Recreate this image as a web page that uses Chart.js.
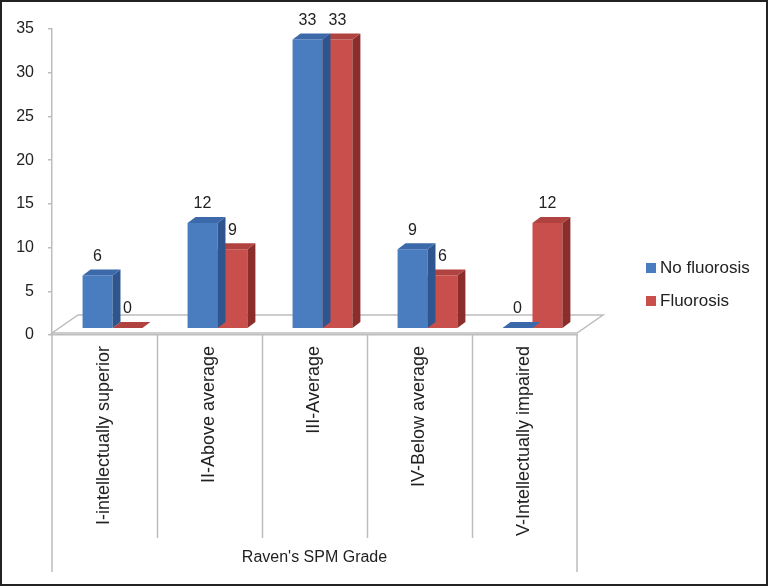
<!DOCTYPE html>
<html>
<head>
<meta charset="utf-8">
<script src="https://cdn.jsdelivr.net/npm/chart.js@4.4.0/dist/chart.umd.min.js"></script>
<style>
  html, body { margin: 0; padding: 0; background: #fff; }
  #wrap { width: 768px; height: 586px; position: relative; }
</style>
</head>
<body>
<div id="wrap"><canvas id="chart" width="768" height="586"></canvas></div>
<script>
const categories = [
  'I-intellectually superior',
  'II-Above average',
  'III-Average',
  'IV-Below average',
  'V-Intellectually impaired'
];
const noFluorosis = [6, 12, 33, 9, 0];
const fluorosis = [0, 9, 33, 6, 12];
const yTicks = [0, 5, 10, 15, 20, 25, 30, 35];

const FONT = "'Liberation Sans', Arial, sans-serif";
const DEPTH_X = 8, DEPTH_Y = -6;
const faces = [
  { front: '#4a7dc0', top: '#3b69a9', side: '#2e558d' },
  { front: '#c84f4b', top: '#b0423f', side: '#8a2d2b' }
];

const toPoints = (vals) => vals.map((v, i) => ({ x: i, y: v }));

// draws top + side faces after each dataset, so the next series covers the hidden part
const bars3d = {
  id: 'bars3d',
  beforeDatasetsDraw(chart) {
    const { ctx, chartArea: a, scales } = chart;
    const y0 = scales.y.getPixelForValue(0) - 2;
    ctx.save();
    ctx.beginPath();
    ctx.moveTo(a.left, y0);
    ctx.lineTo(a.right, y0);
    ctx.lineTo(a.right + 26, y0 - 18);
    ctx.lineTo(a.left + 26, y0 - 18);
    ctx.closePath();
    ctx.fillStyle = '#fff';
    ctx.fill();
    ctx.strokeStyle = '#bdbdbd';
    ctx.lineWidth = 1.5;
    ctx.stroke();
    ctx.restore();
  },
  afterDatasetDraw(chart, args) {
    const { ctx } = chart;
    const f = faces[args.index];
    ctx.save();
    args.meta.data.forEach((bar) => {
      const x0 = bar.x - bar.width / 2, x1 = bar.x + bar.width / 2;
      const top = bar.y, base = bar.base;
      ctx.fillStyle = f.side;
      ctx.beginPath();
      ctx.moveTo(x1, top);
      ctx.lineTo(x1 + DEPTH_X, top + DEPTH_Y);
      ctx.lineTo(x1 + DEPTH_X, base + DEPTH_Y);
      ctx.lineTo(x1, base);
      ctx.closePath();
      ctx.fill();
      ctx.fillStyle = f.top;
      ctx.beginPath();
      ctx.moveTo(x0, top);
      ctx.lineTo(x1, top);
      ctx.lineTo(x1 + DEPTH_X, top + DEPTH_Y);
      ctx.lineTo(x0 + DEPTH_X, top + DEPTH_Y);
      ctx.closePath();
      ctx.fill();
    });
    ctx.restore();
  },
  afterDraw(chart) {
    const { ctx, chartArea: a, scales } = chart;
    ctx.save();
    // value labels
    ctx.font = '16px ' + FONT;
    ctx.fillStyle = '#222';
    ctx.textAlign = 'center';
    ctx.textBaseline = 'middle';
    chart.data.datasets.forEach((ds, di) => {
      chart.getDatasetMeta(di).data.forEach((bar, i) => {
        ctx.fillText(String(ds.data[i].y), bar.x, bar.y - 19);
      });
    });
    // category dividers below the axis
    const x = scales.x;
    const y0 = scales.y.getPixelForValue(0);
    ctx.strokeStyle = '#bdbdbd';
    ctx.lineWidth = 1.5;
    for (let i = 0; i < categories.length - 1; i++) {
      const px = Math.round((x.getPixelForValue(i) + x.getPixelForValue(i + 1)) / 2) + 0.5;
      ctx.beginPath();
      ctx.moveTo(px, y0);
      ctx.lineTo(px, 538);
      ctx.stroke();
    }
    [a.left, a.right].forEach((px) => {
      ctx.beginPath();
      ctx.moveTo(px, y0);
      ctx.lineTo(px, 572);
      ctx.stroke();
    });
    // legend
    ctx.font = '17px ' + FONT;
    ctx.textAlign = 'left';
    chart.data.datasets.forEach((ds, di) => {
      const ly = 268 + di * 33;
      ctx.fillStyle = ds.backgroundColor;
      ctx.fillRect(646, ly - 5, 10, 10);
      ctx.fillStyle = '#222';
      ctx.fillText(ds.label, 660, ly);
    });
    // frame
    ctx.strokeStyle = '#222';
    ctx.lineWidth = 2;
    ctx.strokeRect(1, 1, 766, 584);
    ctx.restore();
  }
};

new Chart(document.getElementById('chart'), {
  type: 'bar',
  data: {
    labels: categories,
    datasets: [
      { label: 'No fluorosis', data: toPoints(noFluorosis), backgroundColor: faces[0].front,
        xAxisID: 'xb', yAxisID: 'yb' },
      { label: 'Fluorosis', data: toPoints(fluorosis), backgroundColor: faces[1].front,
        xAxisID: 'xb', yAxisID: 'yb' }
    ]
  },
  options: {
    responsive: false,
    animation: false,
    events: [],
    barPercentage: 1,
    categoryPercentage: 0.57,
    layout: { padding: { top: 29, right: 191, bottom: 0, left: 0 } },
    plugins: {
      legend: { display: false },
      tooltip: { enabled: false }
    },
    scales: {
      x: {
        type: 'category',
        grid: { display: false },
        border: { display: true, color: '#bdbdbd', width: 1.5 },
        ticks: {
          minRotation: 90, maxRotation: 90, autoSkip: false, padding: 3,
          color: '#222', font: { family: FONT, size: 18 }
        },
        title: {
          display: true, text: "Raven's SPM Grade", color: '#222',
          font: { family: FONT, size: 16 }, padding: { top: 0, bottom: 19 }
        },
        afterFit(scale) { scale.height = 586 - 335; }
      },
      xb: { type: 'linear', display: false, offset: false, min: -0.576, max: 4.424 },
      y: {
        min: 0, max: 35,
        afterBuildTicks(scale) { scale.ticks = yTicks.map((v) => ({ value: v })); },
        grid: { drawOnChartArea: false, tickLength: 4, color: '#bdbdbd', lineWidth: 1.5 },
        border: { display: true, color: '#bdbdbd', width: 1.5 },
        ticks: { padding: 14, color: '#222', font: { family: FONT, size: 16 } },
        afterFit(scale) { scale.width = 52; }
      },
      yb: { type: 'linear', display: false, min: -0.8, max: 34.2 }
    }
  },
  plugins: [bars3d]
});
</script>
</body>
</html>
